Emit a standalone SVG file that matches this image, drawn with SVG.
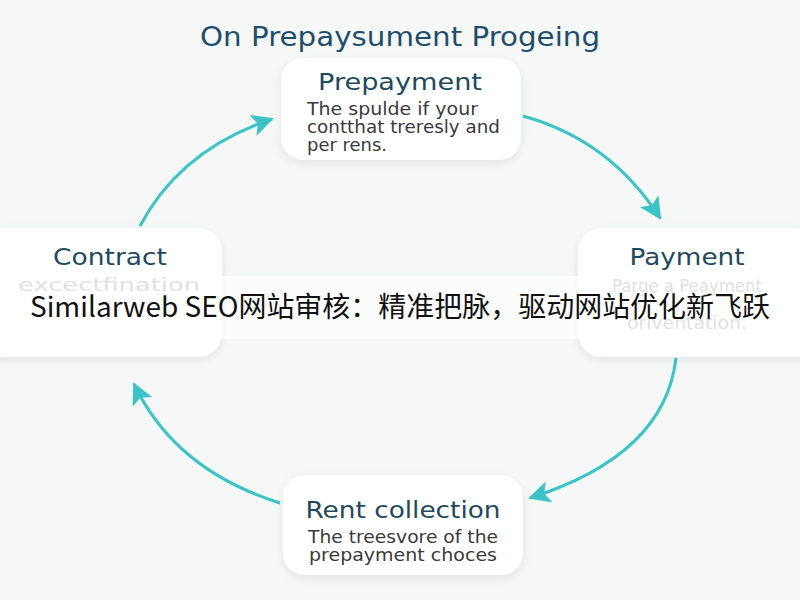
<svg xmlns="http://www.w3.org/2000/svg" width="800" height="600" viewBox="0 0 800 600">
<defs>
<filter id="sh" x="-20%" y="-20%" width="140%" height="150%">
<feDropShadow dx="0" dy="3" stdDeviation="5" flood-color="#000" flood-opacity="0.08"/>
</filter>
<marker id="ah" markerUnits="userSpaceOnUse" markerWidth="24" markerHeight="22" refX="20" refY="11" orient="auto">
<path d="M0,0 L22,11 L0,22 L5,11 Z" fill="#3cc3c6"/>
</marker>
<style>
.box{fill:#fff;filter:url(#sh)}
.ttl{font-family:"DejaVu Sans","Liberation Sans",sans-serif;font-size:23px;fill:#1f4a5e;text-anchor:middle}
.body{font-family:"DejaVu Sans","Liberation Sans",sans-serif;font-size:17px;fill:#3a3a3a}
.faint{font-family:"DejaVu Sans","Liberation Sans",sans-serif;font-size:17px;fill:#a8a8a8;text-anchor:middle}
.arr{fill:none;stroke:#3cc3c6;stroke-width:3;marker-end:url(#ah)}
</style>
</defs>
<rect width="800" height="600" fill="#f6f7f7"/>
<text x="400" y="46" font-family="'DejaVu Sans','Liberation Sans',sans-serif" font-size="26" fill="#1f4e6c" text-anchor="middle" textLength="400" lengthAdjust="spacingAndGlyphs">On Prepaysument Progeing</text>
<g id="connectors">
<path class="arr" d="M140,226 Q180,150 272,119"/>
<path class="arr" d="M523,116 Q610,140 660,218"/>
<path class="arr" d="M676,358 Q665,455 530,498"/>
<path class="arr" d="M280,503 Q175,470 134,384"/>
</g>
<g id="prepayment">
<rect class="box" x="281" y="58" width="240" height="102" rx="22"/>
<text class="ttl" x="400" y="90" textLength="164" lengthAdjust="spacingAndGlyphs">Prepayment</text>
<text class="body" x="307" y="115" textLength="171" lengthAdjust="spacingAndGlyphs">The spulde if your</text>
<text class="body" x="307" y="133" textLength="193" lengthAdjust="spacingAndGlyphs">contthat treresly and</text>
<text class="body" x="307" y="151" textLength="80" lengthAdjust="spacingAndGlyphs">per rens.</text>
</g>
<g id="payment">
<rect class="box" x="578" y="228" width="240" height="129" rx="24"/>
<text class="ttl" x="687" y="265" font-size="22" textLength="115" lengthAdjust="spacingAndGlyphs">Payment</text>
<text class="faint" x="687" y="292" textLength="150" lengthAdjust="spacingAndGlyphs">Parge a Peayment</text>
<text class="faint" x="687" y="329" textLength="120" lengthAdjust="spacingAndGlyphs">oriventation.</text>
</g>
<g id="contract">
<rect class="box" x="-20" y="228" width="242" height="129" rx="24"/>
<text class="ttl" x="110" y="265" fill="#2a5468" textLength="114" lengthAdjust="spacingAndGlyphs">Contract</text>
<text class="faint" x="109" y="291" font-size="22" fill="#b5b5b5" textLength="182" lengthAdjust="spacingAndGlyphs">excectfination</text>
</g>
<g id="rent-collection">
<rect class="box" x="283" y="475" width="240" height="100" rx="22"/>
<text class="ttl" x="403" y="518" textLength="195" lengthAdjust="spacingAndGlyphs">Rent collection</text>
<text class="body" x="403" y="543" text-anchor="middle" textLength="190" lengthAdjust="spacingAndGlyphs">The treesvore of the</text>
<text class="body" x="403" y="561" text-anchor="middle" textLength="188" lengthAdjust="spacingAndGlyphs">prepayment choces</text>
</g>
<rect x="0" y="276" width="800" height="63" fill="#fff" opacity="0.65"/>
<text x="400" y="317" font-family="'Noto Sans CJK SC',sans-serif" font-size="28" fill="#111" text-anchor="middle" textLength="740" lengthAdjust="spacingAndGlyphs">Similarweb SEO网站审核：精准把脉，驱动网站优化新飞跃</text>
</svg>
